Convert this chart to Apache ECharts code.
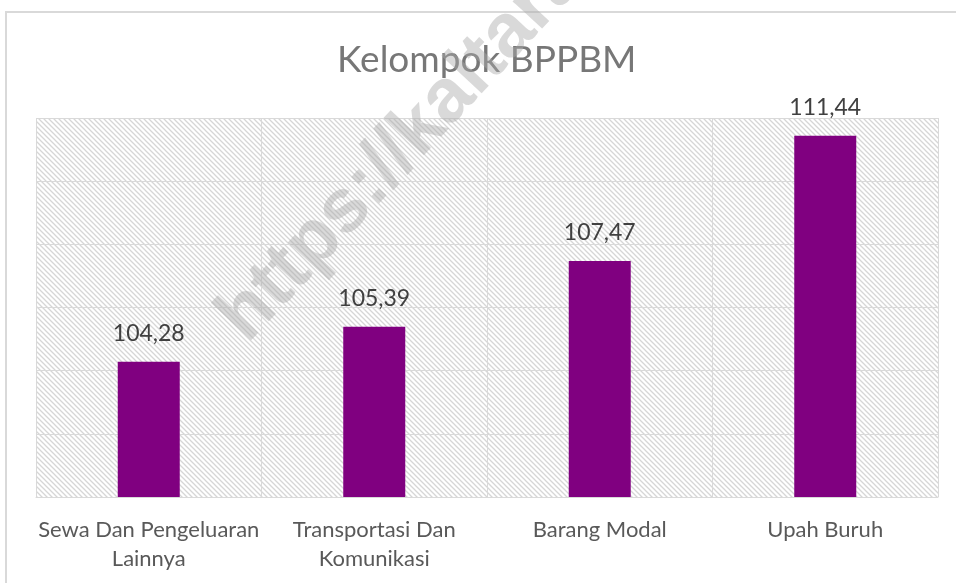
<!DOCTYPE html>
<html>
<head>
<meta charset="utf-8">
<title>Kelompok BPPBM</title>
<script src="https://cdn.jsdelivr.net/npm/echarts@6/dist/echarts.min.js"></script>
<style>
  html, body { margin: 0; padding: 0; background: #fff; }
  #chart { width: 956px; height: 583px; }
</style>
</head>
<body>
<div id="chart"></div>
<script>
var categories = ['Sewa Dan Pengeluaran\nLainnya', 'Transportasi Dan\nKomunikasi', 'Barang Modal', 'Upah Buruh'];
var values = [104.28, 105.39, 107.47, 111.44];
var yMin = 100, yMax = 112, yStep = 2;

// hatch fill like the excel plot area
function hatch() {
  var s = 5;
  var c = document.createElement('canvas');
  c.width = s; c.height = s;
  var ctx = c.getContext('2d');
  ctx.fillStyle = '#fff';
  ctx.fillRect(0, 0, s, s);
  ctx.strokeStyle = '#d6d6d6';
  ctx.lineWidth = 1.3;
  ctx.beginPath();
  ctx.moveTo(-1, -1); ctx.lineTo(s + 1, s + 1);
  ctx.moveTo(-1, s - 1); ctx.lineTo(1, s + 1);
  ctx.moveTo(s - 1, -1); ctx.lineTo(s + 1, 1);
  ctx.stroke();
  return c;
}

var chart = echarts.init(document.getElementById('chart'));
var font = 'Lato, "Open Sans", sans-serif';

chart.setOption({
  animation: false,
  title: {
    text: 'Kelompok BPPBM',
    left: 332,
    top: 37,
    textStyle: { fontFamily: font, fontSize: 37, fontWeight: 'normal', color: '#777777' }
  },
  grid: {
    left: 36, right: 18, top: 118, bottom: 86,
    show: true,
    borderWidth: 0,
    backgroundColor: { image: hatch(), repeat: 'repeat' }
  },
  xAxis: {
    type: 'category',
    data: categories,
    axisLine: { show: true, lineStyle: { color: '#d9d9d9', width: 1 } },
    axisTick: { show: false },
    splitLine: { show: true, interval: 0, lineStyle: { color: '#d9d9d9', width: 1 } },
    axisLabel: {
      interval: 0,
      margin: 18,
      fontFamily: font, fontSize: 22, color: '#595959', lineHeight: 29
    }
  },
  yAxis: {
    type: 'value',
    min: yMin, max: yMax, interval: yStep,
    axisLine: { show: false },
    axisTick: { show: false },
    axisLabel: { show: false },
    splitLine: { lineStyle: { color: '#d9d9d9', width: 1 } }
  },
  graphic: [
    {
      type: 'rect',
      shape: { x: 6, y: 12, width: 1200, height: 1200 },
      style: { fill: null, stroke: '#d9d9d9', lineWidth: 2 },
      z: 0, silent: true
    },
    {
      type: 'text',
      x: 260, y: 356,
      rotation: 47 * Math.PI / 180,
      style: {
        text: 'https://kaltara.bps.go.id',
        fontFamily: '"Liberation Sans", Arial, sans-serif',
        fontWeight: 'bold',
        fontSize: 76,
        fill: 'rgba(170,170,170,0.45)',
        textVerticalAlign: 'bottom'
      },
      z: 100, silent: true
    }
  ],
  series: [{
    type: 'bar',
    data: values,
    barWidth: 62,
    itemStyle: { color: '#800080' },
    label: {
      show: true,
      position: 'top',
      distance: 17,
      fontFamily: font, fontSize: 23, color: '#404040',
      formatter: function (p) { return p.value.toFixed(2).replace('.', ','); }
    }
  }]
});
</script>
</body>
</html>
